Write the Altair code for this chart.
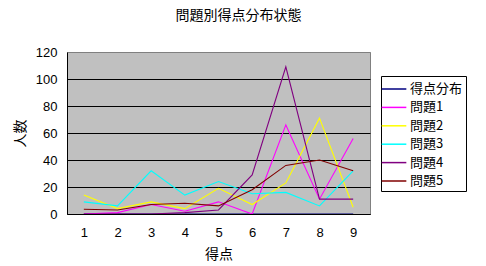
import altair as alt
import pandas as pd

scores = [1, 2, 3, 4, 5, 6, 7, 8, 9]
series_names = ["得点分布", "問題1", "問題2", "問題3", "問題4", "問題5"]
dist = [0, 0, 0, 0, 0, 0, 0, 0, 0]
q1 = [0, 1, 7, 2, 9, 0, 66, 11, 56]
q2 = [14, 4, 9, 4, 19, 7, 23, 71, 5]
q3 = [9, 6, 32, 14, 24, 15, 16, 6, 32]
q4 = [0, 0, 0, 1, 3, 29, 109, 11, 11]
q5 = [3.5, 3, 7, 8, 6, 18, 36, 40, 32]
colors = ["#000080", "#FF00FF", "#FFFF00", "#00FFFF", "#800080", "#800000"]
y_ticks = [0, 20, 40, 60, 80, 100, 120]

all_values = [dist, q1, q2, q3, q4, q5]
rows = []
for name, vals in zip(series_names, all_values):
    for s, v in zip(scores, vals):
        rows.append({"series": name, "score": s, "value": v, "order": series_names.index(name)})
df = pd.DataFrame(rows)

JP = "Noto Sans CJK JP"
AR = "Liberation Sans"

chart = alt.Chart(df).mark_line(strokeWidth=1.1).encode(
    x=alt.X("score:O", sort=scores,
            scale=alt.Scale(type="point", padding=0.5),
            axis=alt.Axis(title="得点", labelAngle=0, ticks=False, labelPadding=12,
                          titlePadding=8, domainColor="black", grid=False, zindex=1)),
    y=alt.Y("value:Q", scale=alt.Scale(domain=[0, 120], nice=False),
            axis=alt.Axis(title="人数", values=y_ticks, ticks=False, labelPadding=10,
                          titlePadding=8, domainColor="black", grid=True,
                          gridColor=alt.condition("datum.value == 120", alt.value("#808080"), alt.value("black")),
                          gridOpacity=1)),
    color=alt.Color("series:N", scale=alt.Scale(domain=series_names, range=colors),
                    legend=alt.Legend(orient="none", legendX=314, legendY=24, title=None,
                                      symbolType="M-1.37,0H1.37", symbolSize=324,
                                      symbolStrokeWidth=1.5, labelOffset=6,
                                      labelFont=JP, labelFontSize=13, labelColor="black",
                                      rowPadding=1.4, padding=3,
                                      strokeColor="black", fillColor="white")),
    order=alt.Order("order:Q"),
).properties(
    width=303, height=162,
    background="white",
    title=alt.TitleParams("問題別得点分布状態", font=JP, fontSize=14, fontWeight="normal",
                          color="black", anchor="middle", dx=20, offset=16, baseline="middle"),
    autosize=alt.AutoSizeParams(type="none"),
    padding={"left": 67, "top": 52, "right": 116, "bottom": 52},
).configure_view(
    fill="#C0C0C0", stroke="#808080", strokeWidth=1
).configure_axis(
    labelFont=AR, labelFontSize=13, labelColor="black",
    titleFont=JP, titleFontSize=14, titleFontWeight="normal", titleColor="black",
    domainWidth=1, gridWidth=1
)

chart.save("out.html", embed_options={"renderer": "svg", "actions": False})
